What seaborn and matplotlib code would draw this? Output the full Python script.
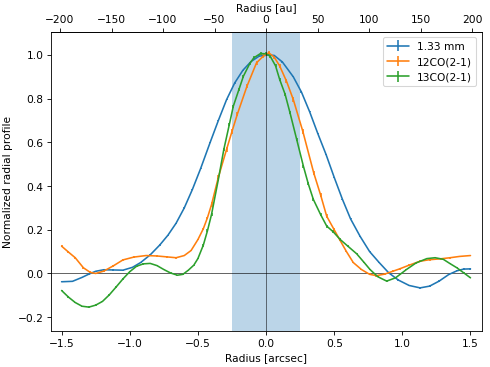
import numpy as np
import matplotlib
matplotlib.use("Agg")
import matplotlib.pyplot as plt
import seaborn as sns

# radial profiles (radius in arcsec, normalized flux)
r_cont = [-1.50, -1.42, -1.35, -1.30, -1.25, -1.19, -1.12, -1.05, -0.98, -0.92,
          -0.85, -0.78, -0.72, -0.66, -0.60, -0.54, -0.48, -0.41, -0.35, -0.29,
          -0.23, -0.17, -0.11, -0.05, 0.02, 0.06, 0.12, 0.20, 0.26, 0.32,
          0.38, 0.44, 0.50, 0.56, 0.62, 0.69, 0.76, 0.83, 0.90, 0.97,
          1.05, 1.13, 1.20, 1.27, 1.34, 1.40, 1.45, 1.50]
p_cont = [-0.038, -0.036, -0.018, -0.003, 0.010, 0.017, 0.016, 0.015, 0.028, 0.050,
          0.085, 0.130, 0.175, 0.230, 0.300, 0.385, 0.480, 0.600, 0.700, 0.795,
          0.872, 0.930, 0.970, 0.995, 1.000, 0.998, 0.968, 0.900, 0.830, 0.740,
          0.640, 0.545, 0.440, 0.340, 0.250, 0.170, 0.100, 0.050, 0.003, -0.030,
          -0.055, -0.066, -0.058, -0.035, -0.005, 0.012, 0.020, 0.021]
e_cont = [0.003] * len(r_cont)

r_12co = [-1.50, -1.45, -1.40, -1.34, -1.29, -1.25, -1.19, -1.12, -1.05, -0.97,
          -0.88, -0.80, -0.73, -0.66, -0.60, -0.55, -0.50, -0.46, -0.43, -0.40,
          -0.35, -0.29, -0.25, -0.21, -0.14, -0.07, -0.02, 0.02, 0.06, 0.10,
          0.15, 0.20, 0.27, 0.35, 0.40, 0.445, 0.50, 0.54, 0.59, 0.64,
          0.70, 0.76, 0.81, 0.87, 0.93, 0.98, 1.05, 1.13, 1.20, 1.28,
          1.35, 1.42, 1.50]
p_12co = [0.125, 0.098, 0.072, 0.026, 0.005, 0.000, 0.011, 0.035, 0.062, 0.075,
          0.082, 0.080, 0.076, 0.072, 0.082, 0.105, 0.155, 0.205, 0.255, 0.315,
          0.440, 0.567, 0.650, 0.730, 0.857, 0.964, 0.995, 1.010, 0.990, 0.950,
          0.880, 0.796, 0.650, 0.460, 0.360, 0.262, 0.200, 0.155, 0.100, 0.050,
          0.018, -0.004, -0.010, -0.003, 0.010, 0.021, 0.038, 0.056, 0.063, 0.067,
          0.072, 0.078, 0.082]
e_12co = [0.004] * 19 + [0.010] * 18 + [0.004] * 16

r_13co = [-1.50, -1.45, -1.40, -1.35, -1.30, -1.25, -1.20, -1.15, -1.10, -1.05,
          -1.00, -0.95, -0.90, -0.85, -0.80, -0.75, -0.70, -0.65, -0.61, -0.57,
          -0.53, -0.50, -0.46, -0.43, -0.40, -0.35, -0.31, -0.27, -0.24, -0.20,
          -0.166, -0.12, -0.09, -0.04, 0.00, 0.03, 0.07, 0.10, 0.14, 0.176,
          0.225, 0.274, 0.31, 0.347, 0.40, 0.445, 0.494, 0.543, 0.60, 0.665,
          0.72, 0.763, 0.82, 0.885, 0.95, 1.03, 1.10, 1.18, 1.24, 1.30,
          1.35, 1.40, 1.45, 1.50]
p_13co = [-0.078, -0.108, -0.133, -0.150, -0.154, -0.145, -0.128, -0.098, -0.062, -0.025,
          0.008, 0.033, 0.044, 0.046, 0.036, 0.018, 0.002, -0.008, -0.004, 0.015,
          0.038, 0.068, 0.130, 0.195, 0.270, 0.430, 0.567, 0.680, 0.766, 0.840,
          0.903, 0.960, 0.987, 1.007, 1.005, 0.995, 0.950, 0.888, 0.820, 0.735,
          0.613, 0.491, 0.410, 0.339, 0.270, 0.217, 0.190, 0.156, 0.125, 0.090,
          0.050, 0.018, -0.015, -0.035, -0.020, 0.018, 0.048, 0.068, 0.072, 0.065,
          0.045, 0.026, 0.003, -0.020]
e_13co = [0.003] * 22 + [0.007] * 26 + [0.003] * 16

labels = ["1.33 mm", "12CO(2-1)", "13CO(2-1)"]
au_ticks = [-200, -150, -100, -50, 0, 50, 100, 150, 200]
beam_half = 0.25        # shaded region, arcsec
au_per_arcsec = 132.3

sns.set_style("ticks", {"axes.edgecolor": "k", "xtick.color": "k", "ytick.color": "k",
                        "text.color": "k", "axes.labelcolor": "k"})
plt.rcParams["font.family"] = ["DejaVu Sans"]
colors = sns.color_palette("tab10", 3)

fig, ax = plt.subplots(figsize=(6.4, 4.8), dpi=490 / 6.4)
fig.subplots_adjust(left=0.104, right=0.983, top=0.912, bottom=0.097)

ax.axvspan(-beam_half, beam_half, color=colors[0], alpha=0.3, lw=0, zorder=0)
ax.axhline(0, color="k", lw=0.8, alpha=0.7, zorder=1)

series = [(r_cont, p_cont, e_cont), (r_12co, p_12co, e_12co), (r_13co, p_13co, e_13co)]
for (r, p, e), lab, c in zip(series, labels, colors):
    ax.errorbar(r, p, yerr=e, color=c, lw=1.5, label=lab, zorder=2)

ax.axvline(0, color="k", lw=0.6, alpha=0.8, zorder=3)

ax.set_xlim(-1.578, 1.582)
ax.set_ylim(-0.265, 1.106)
ax.set_xlabel("Radius [arcsec]")
ax.set_ylabel("Normalized radial profile")

top = ax.secondary_xaxis("top", functions=(lambda x: x * au_per_arcsec,
                                            lambda x: x / au_per_arcsec))
top.set_xticks(au_ticks)
top.set_xlabel("Radius [au]")

ax.legend(loc="upper right")

fig.savefig("out.png", dpi=490 / 6.4)
